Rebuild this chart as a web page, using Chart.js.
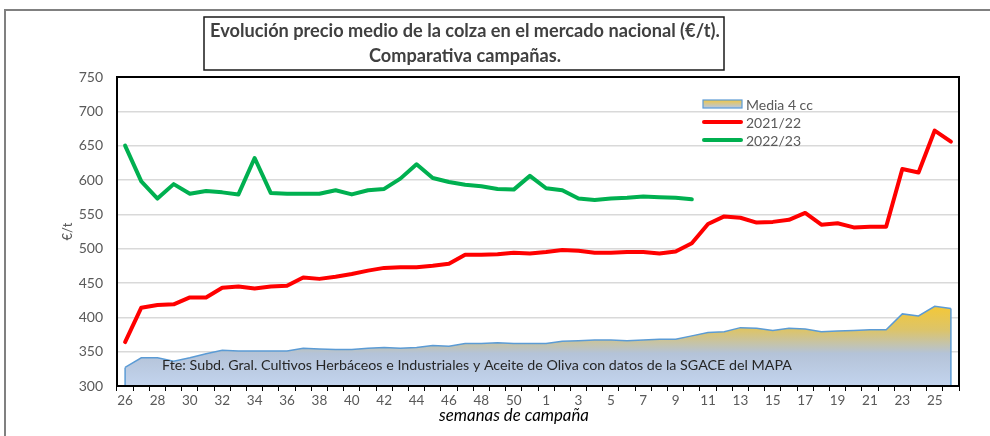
<!DOCTYPE html>
<html><head><meta charset="utf-8">
<script src="https://cdn.jsdelivr.net/npm/chart.js@4/dist/chart.umd.min.js"></script>
<style>html,body{margin:0;padding:0;background:#fff;}#wrap{width:990px;height:436px;}</style>
</head><body><div id="wrap"><canvas id="c" width="990" height="436"></canvas></div>
<script>
// ---- data ----
const weeks = [26,27,28,29,30,31,32,33,34,35,36,37,38,39,40,41,42,43,44,45,46,47,48,49,50,51,
               1,2,3,4,5,6,7,8,9,10,11,12,13,14,15,16,17,18,19,20,21,22,23,24,25,26];
const media4cc = [327,341,341,336,341,347,352,351,351,351,351,355,354,353,353,355,356,355,356,359,358,362,362,363,362,362,
                  362,365,366,367,367,366,367,368,368,373,378,379,385,384,381,384,383,379,380,381,382,382,405,402,416,413];
const camp2122 = [364,414,418,419,429,429,443,445,442,445,446,458,456,459,463,468,472,473,473,475,478,491,491,492,494,493,
                  495,498,497,494,494,495,495,493,496,508,536,547,545,538,539,542,552,535,537,531,532,532,616,611,672,656];
const camp2223 = [650,598,573,594,580,584,582,579,632,581,580,580,580,585,579,585,587,602,623,603,597,593,591,587,586,606,
                  588,585,573,571,573,574,576,575,574,572];
const yMin = 300, yMax = 750, yStep = 50;
const seriesLabels = ['Media 4 cc', '2021/22', '2022/23'];
const titleLines = ['Evolución precio medio de la colza en el mercado nacional (€/t).', 'Comparativa campañas.'];
const sourceText = 'Fte: Subd. Gral. Cultivos Herbáceos e Industriales y Aceite de Oliva con datos de la SGACE del MAPA';
const xTitle = 'semanas de campaña';
const yTitle = '€/t';

// ---- styling helpers ----
const FAM = 'Lato, "Open Sans", sans-serif';
function fitFont(ctx, text, weight, style, target, base) {
  ctx.font = `${style} ${weight} ${base}px ${FAM}`;
  const w = ctx.measureText(text).width;
  return base * target / w;
}
function areaGradient(chart) {
  const ca = chart.chartArea;
  if (!ca) return '#b4c7e7';
  const y = chart.scales.y;
  const g = chart.ctx.createLinearGradient(0, y.getPixelForValue(425), 0, y.getPixelForValue(300));
  g.addColorStop(0, '#fac92a');
  g.addColorStop(0.35, '#dcc46a');
  g.addColorStop(0.62, '#b4c3d8');
  g.addColorStop(1, '#c3d4ee');
  return g;
}

const decor = {
  id: 'decor',
  beforeDraw(chart) {
    const ctx = chart.ctx;
    ctx.save();
    ctx.fillStyle = '#fff';
    ctx.fillRect(0, 0, chart.width, chart.height);
    ctx.strokeStyle = '#808080';
    ctx.lineWidth = 2;
    ctx.beginPath();
    ctx.moveTo(5, chart.height);
    ctx.lineTo(5, 10);
    ctx.lineTo(chart.width, 10);
    ctx.stroke();
    ctx.restore();
  },
  afterDatasetsDraw(chart) {
    const ctx = chart.ctx, ca = chart.chartArea;
    ctx.save();
    const meta = chart.getDatasetMeta(0);
    const pts = meta.data;
    ctx.strokeStyle = '#5b9bd5';
    ctx.lineWidth = 1.5;
    [pts[0], pts[pts.length - 1]].forEach(p => {
      ctx.beginPath();
      ctx.moveTo(p.x, ca.bottom);
      ctx.lineTo(p.x, p.y);
      ctx.stroke();
    });
    const fs = fitFont(ctx, sourceText, 'normal', 'normal', 631, 14);
    ctx.font = `normal normal ${fs}px ${FAM}`;
    ctx.fillStyle = '#262626';
    ctx.textBaseline = 'middle';
    ctx.textAlign = 'left';
    ctx.fillText(sourceText, 162, 365);
    ctx.strokeStyle = '#000';
    ctx.lineWidth = 2;
    ctx.strokeRect(ca.left, ca.top, ca.right - ca.left, ca.bottom - ca.top);
    ctx.restore();
  },
  afterDraw(chart) {
    const ctx = chart.ctx;
    ctx.save();
    ctx.strokeStyle = '#1a1a1a';
    ctx.lineWidth = 1.5;
    ctx.strokeRect(204, 17, 520, 53);
    ctx.fillStyle = '#404040';
    ctx.textAlign = 'center';
    ctx.textBaseline = 'middle';
    const ts = fitFont(ctx, titleLines[0], 'bold', 'normal', 510, 16);
    ctx.font = `normal bold ${ts}px ${FAM}`;
    ctx.fillText(titleLines[0], 465, 31);
    ctx.fillText(titleLines[1], 465, 56);
    const xs = fitFont(ctx, xTitle, 'normal', 'italic', 150, 14);
    ctx.font = `italic normal ${xs}px ${FAM}`;
    ctx.fillStyle = '#000';
    ctx.fillText(xTitle, 514, 416);
    const lx = 703, lw = 39;
    const rows = [104, 122, 140];
    const ds = chart.data.datasets;
    ctx.textAlign = 'left';
    ctx.font = `normal normal 14px ${FAM}`;
    ds.forEach((d, i) => {
      const y = rows[i];
      if (i === 0) {
        const g = ctx.createLinearGradient(0, y - 4, 0, y + 4);
        g.addColorStop(0, '#f2c744'); g.addColorStop(1, '#b4c7e7');
        ctx.fillStyle = g;
        ctx.fillRect(lx, y - 4, lw, 8);
        ctx.strokeStyle = '#5b9bd5'; ctx.lineWidth = 1.2;
        ctx.strokeRect(lx, y - 4, lw, 8);
      } else {
        ctx.strokeStyle = d.borderColor; ctx.lineWidth = 4; ctx.lineCap = 'round';
        ctx.beginPath(); ctx.moveTo(lx + 1, y); ctx.lineTo(lx + lw - 1, y); ctx.stroke();
      }
      ctx.fillStyle = '#595959';
      ctx.fillText(d.label, lx + lw + 4, y + 1);
    });
    ctx.restore();
  }
};

new Chart(document.getElementById('c'), {
  type: 'line',
  data: {
    labels: weeks,
    datasets: [
      { label: seriesLabels[0], data: media4cc, fill: 'start', order: 3,
        borderColor: '#5b9bd5', borderWidth: 1.5, pointRadius: 0, tension: 0,
        backgroundColor: ctx => areaGradient(ctx.chart) },
      { label: seriesLabels[1], data: camp2122, fill: false, order: 2,
        borderColor: '#ff0000', borderWidth: 4, pointRadius: 0, tension: 0,
        borderJoinStyle: 'round', borderCapStyle: 'round' },
      { label: seriesLabels[2], data: camp2223, fill: false, order: 1,
        borderColor: '#00b050', borderWidth: 4, pointRadius: 0, tension: 0,
        borderJoinStyle: 'round', borderCapStyle: 'round' }
    ]
  },
  options: {
    responsive: false,
    animation: false,
    devicePixelRatio: 1,
    layout: { padding: { left: 48, right: 31, top: 77, bottom: 0 } },
    plugins: { legend: { display: false }, tooltip: { enabled: false }, title: { display: false } },
    scales: {
      x: {
        type: 'category', offset: true,
        grid: { offset: true, drawOnChartArea: false, drawTicks: true, tickLength: 5, color: '#000', lineWidth: 1 },
        border: { display: false },
        ticks: { autoSkip: false, maxRotation: 0, minRotation: 0, padding: 2, color: '#595959',
                 font: { family: FAM, size: 13.5 },
                 callback: (v, i) => (i % 2 === 0 ? String(weeks[i]) : '') },
        afterFit: s => { s.height = 50; }
      },
      y: {
        min: yMin, max: yMax,
        ticks: { stepSize: yStep, color: '#595959', padding: 14, font: { family: FAM, size: 14 } },
        grid: { color: '#d9d9d9', lineWidth: 1.5, drawTicks: false },
        border: { display: false },
        title: { display: true, text: yTitle, color: '#595959', font: { family: FAM, size: 13 }, padding: { top: 12, bottom: 0 } },
        afterFit: s => { s.width = 69; }
      }
    }
  },
  plugins: [decor]
});
</script>
</body></html>
